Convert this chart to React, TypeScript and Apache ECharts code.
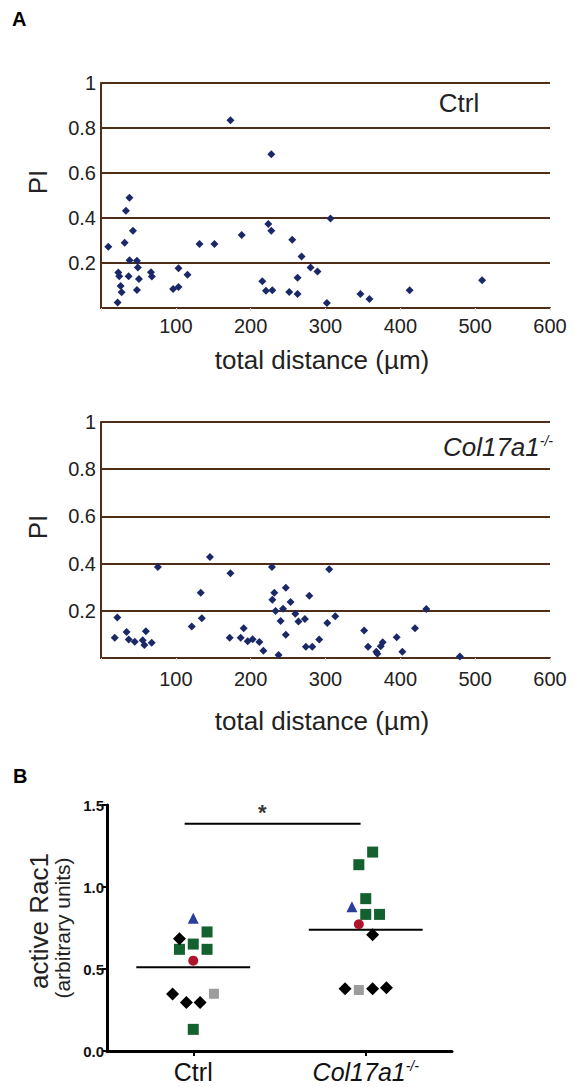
import React, { useEffect, useRef } from 'react';
import * as echarts from 'echarts';

// ---------- Panel A data (total distance in µm, PI) ----------
const distTicks = [0, 100, 200, 300, 400, 500, 600];
const piTicks = [0, 0.2, 0.4, 0.6, 0.8, 1];

const ctrlDistance = [
  9.8, 38, 33.3, 42.7, 31.6, 131.6, 151.6, 188, 38.2, 48, 49.3, 23.1, 24.4, 36.9, 50.7,
  66.7, 68, 26.2, 27.6, 48, 22.2, 103.6, 115.6, 96.4, 103.6, 173, 227.6, 306.7, 223.6,
  227.6, 255.6, 268, 280, 289.3, 215.6, 262.7, 220.4, 228.9, 251.6, 262.7, 301.8, 346.7,
  358.7, 412.4, 509.3,
];
const ctrlPI = [
  0.272, 0.49, 0.432, 0.343, 0.29, 0.284, 0.284, 0.324, 0.212, 0.21, 0.18, 0.158, 0.141,
  0.141, 0.129, 0.159, 0.14, 0.098, 0.07, 0.08, 0.024, 0.177, 0.148, 0.085, 0.093, 0.834,
  0.683, 0.398, 0.373, 0.343, 0.303, 0.229, 0.18, 0.162, 0.119, 0.134, 0.077, 0.079, 0.071,
  0.062, 0.022, 0.062, 0.04, 0.079, 0.123,
];

const koDistance = [
  145.6, 76, 173, 133.3, 21.8, 134.7, 121.3, 34.2, 60, 18.4, 37.1, 45.1, 55.7, 58, 67.7,
  172, 186.7, 190.7, 228.4, 304.9, 247, 231.6, 229, 253.3, 278.4, 233.3, 243.3, 259.7,
  263.8, 272.4, 240, 313, 302.4, 247, 196, 202.7, 211.6, 217, 237.3, 273.8, 282.3, 291.6,
  351.6, 356.9, 376.4, 373.8, 367.9, 369.3, 395.1, 402.7, 419.6, 434.7, 479.6,
];
const koPI = [
  0.428, 0.386, 0.359, 0.277, 0.172, 0.168, 0.134, 0.11, 0.113, 0.086, 0.078, 0.069, 0.075,
  0.055, 0.065, 0.086, 0.086, 0.126, 0.386, 0.376, 0.298, 0.277, 0.247, 0.237, 0.264, 0.199,
  0.209, 0.188, 0.155, 0.165, 0.157, 0.177, 0.148, 0.099, 0.071, 0.079, 0.068, 0.031, 0.013,
  0.048, 0.048, 0.078, 0.117, 0.048, 0.067, 0.05, 0.027, 0.018, 0.088, 0.027, 0.126, 0.208,
  0.006,
];

// ---------- Panel B data (active Rac1, arbitrary units) ----------
const groups = ['Ctrl', 'Col17a1'];
const racTicks = [0, 0.5, 1.0, 1.5];
const groupMeans = [0.51, 0.74];
const sigBar = [0.45, 1.47, 1.385]; // from, to (category units), height

// values and horizontal jitter offsets (category units) per marker kind
const ctrlGreen = [0.726, 0.652, 0.62, 0.62, 0.132];
const ctrlGreenOff = [0.08, 0, -0.08, 0.08, 0];
const ctrlBlack = [0.685, 0.348, 0.295, 0.295];
const ctrlBlackOff = [-0.08, -0.12, -0.04, 0.04];
const ctrlBlue = [0.809];
const ctrlBlueOff = [0];
const ctrlRed = [0.551];
const ctrlRedOff = [0];
const ctrlGray = [0.349];
const ctrlGrayOff = [0.12];

const koGreen = [1.213, 1.136, 0.929, 0.833, 0.833];
const koGreenOff = [0.04, -0.04, 0, 0, 0.08];
const koBlack = [0.709, 0.38, 0.38, 0.386];
const koBlackOff = [0.04, -0.12, 0.04, 0.12];
const koBlue = [0.88];
const koBlueOff = [-0.08];
const koRed = [0.773];
const koRedOff = [-0.04];
const koGray = [0.372];
const koGrayOff = [-0.04];

const FONT = '"Liberation Sans", Arial, Helvetica, sans-serif';
const BROWN = '#4e2d19';
const NAVY = '#1a2868';
const GREEN = '#13612f';
const BLUE = '#2a3d9a';
const RED = '#b0142a';
const GRAY = '#9c9c9c';

const zip = (xs: number[], ys: number[]) => xs.map((x, i) => [x, ys[i]]);
const jit = (center: number, vals: number[], offs: number[]) =>
  vals.map((v, i) => [center + offs[i], v]);

function panelAAxes(gridIndex: number, labelMargin: number) {
  const x = {
    type: 'value',
    gridIndex,
    min: distTicks[0],
    max: distTicks[distTicks.length - 1],
    interval: 100,
    axisLine: { show: true, lineStyle: { color: BROWN, width: 2 } },
    axisTick: { show: true, length: 3, lineStyle: { color: '#d8d8d8' } },
    splitLine: { show: false },
    axisLabel: {
      margin: labelMargin,
      fontFamily: FONT,
      fontSize: 20,
      color: '#222',
      formatter: (v: number) => (v === 0 ? '' : String(v)),
    },
  };
  const y = {
    type: 'value',
    gridIndex,
    min: piTicks[0],
    max: piTicks[piTicks.length - 1],
    interval: 0.2,
    axisLine: { show: true, lineStyle: { color: BROWN, width: 2 } },
    axisTick: { show: false },
    splitLine: { show: true, lineStyle: { color: BROWN, width: 2 } },
    axisLabel: {
      margin: 5,
      fontFamily: FONT,
      fontSize: 20,
      color: '#222',
      formatter: (v: number) => (v === 0 ? '' : v === 1 ? '1' : v.toFixed(1)),
    },
  };
  return { x, y };
}

export default function App() {
  const ref = useRef<HTMLDivElement>(null);

  useEffect(() => {
    if (!ref.current) return;
    const chart = echarts.init(ref.current, null, { renderer: 'svg' });

    const a1 = panelAAxes(0, 8);
    const a2 = panelAAxes(1, 11);

    const marker = (
      name: string,
      data: number[][],
      symbol: string,
      size: number,
      color: string
    ) => ({
      name,
      type: 'scatter',
      xAxisIndex: 3,
      yAxisIndex: 2,
      symbol,
      symbolSize: size,
      itemStyle: { color, opacity: 1 },
      data,
      z: 5,
    });

    const option: any = {
      animation: false,
      backgroundColor: '#fff',
      textStyle: { fontFamily: FONT },
      grid: [
        { left: 101, top: 83, width: 449, height: 225 },
        { left: 101, top: 422, width: 449, height: 236 },
        { left: 107, top: 805, width: 345, height: 246 },
      ],
      xAxis: [
        a1.x,
        a2.x,
        {
          type: 'category',
          gridIndex: 2,
          data: groups,
          boundaryGap: true,
          axisLine: { show: true, lineStyle: { color: '#000', width: 3 } },
          axisTick: { show: true, alignWithLabel: true, length: 5, lineStyle: { color: '#000', width: 2 } },
          axisLabel: {
            margin: 8,
            color: '#000',
            formatter: (v: string) => (v === 'Ctrl' ? '{n|Ctrl}' : '{i|Col17a1}{s|-/-}'),
            rich: {
              n: { fontFamily: FONT, fontSize: 25, color: '#111' },
              i: { fontFamily: FONT, fontSize: 25, fontStyle: 'italic', color: '#111' },
              s: { fontFamily: FONT, fontSize: 14, fontStyle: 'italic', color: '#111', verticalAlign: 'top' },
            },
          },
        },
        { type: 'value', gridIndex: 2, min: 0, max: 2, show: false },
      ],
      yAxis: [
        a1.y,
        a2.y,
        {
          type: 'value',
          gridIndex: 2,
          min: racTicks[0],
          max: racTicks[racTicks.length - 1],
          interval: 0.5,
          axisLine: { show: true, lineStyle: { color: '#000', width: 3 } },
          axisTick: { show: true, length: 5, lineStyle: { color: '#000', width: 2 } },
          splitLine: { show: false },
          axisLabel: {
            margin: 3,
            fontFamily: FONT,
            fontSize: 15,
            fontWeight: 'bold',
            color: '#111',
            formatter: (v: number) => v.toFixed(1),
          },
        },
      ],
      series: [
        {
          name: 'Ctrl',
          type: 'scatter',
          xAxisIndex: 0,
          yAxisIndex: 0,
          symbol: 'diamond',
          symbolSize: 8,
          itemStyle: { color: NAVY, opacity: 1 },
          data: zip(ctrlDistance, ctrlPI),
        },
        {
          name: 'Col17a1-/-',
          type: 'scatter',
          xAxisIndex: 1,
          yAxisIndex: 1,
          symbol: 'diamond',
          symbolSize: 8,
          itemStyle: { color: NAVY, opacity: 1 },
          data: zip(koDistance, koPI),
        },
        ...groupMeans.map((m, i) => ({
          name: 'mean ' + groups[i],
          type: 'line',
          xAxisIndex: 3,
          yAxisIndex: 2,
          symbol: 'none',
          lineStyle: { color: '#000', width: 2 },
          data: [
            [i + 0.5 - 0.33, m],
            [i + 0.5 + 0.33, m],
          ],
          z: 2,
        })),
        {
          name: 'significance',
          type: 'line',
          xAxisIndex: 3,
          yAxisIndex: 2,
          symbol: 'none',
          lineStyle: { color: '#000', width: 2 },
          data: [
            [sigBar[0], sigBar[2]],
            [sigBar[1], sigBar[2]],
          ],
        },
        {
          name: 'star',
          type: 'scatter',
          xAxisIndex: 3,
          yAxisIndex: 2,
          symbolSize: 1,
          itemStyle: { color: 'rgba(0,0,0,0)' },
          label: {
            show: true,
            position: 'inside',
            formatter: '*',
            fontFamily: FONT,
            fontSize: 22,
            fontWeight: 'bold',
            color: '#000',
          },
          data: [[(sigBar[0] + sigBar[1]) / 2 - 0.06, sigBar[2] + 0.07]],
        },
        marker('ctrl green', jit(0.5, ctrlGreen, ctrlGreenOff), 'rect', 11, GREEN),
        marker('ctrl black', jit(0.5, ctrlBlack, ctrlBlackOff), 'diamond', 13, '#000'),
        marker('ctrl blue', jit(0.5, ctrlBlue, ctrlBlueOff), 'triangle', 11, BLUE),
        marker('ctrl red', jit(0.5, ctrlRed, ctrlRedOff), 'circle', 10, RED),
        marker('ctrl gray', jit(0.5, ctrlGray, ctrlGrayOff), 'rect', 10, GRAY),
        marker('ko green', jit(1.5, koGreen, koGreenOff), 'rect', 11, GREEN),
        marker('ko black', jit(1.5, koBlack, koBlackOff), 'diamond', 13, '#000'),
        marker('ko blue', jit(1.5, koBlue, koBlueOff), 'triangle', 11, BLUE),
        marker('ko red', jit(1.5, koRed, koRedOff), 'circle', 10, RED),
        marker('ko gray', jit(1.5, koGray, koGrayOff), 'rect', 10, GRAY),
      ],
      graphic: [
        { type: 'text', left: 12, top: 9, style: { text: 'A', font: `bold 20px ${FONT}`, fill: '#000' } },
        { type: 'text', left: 13, top: 766, style: { text: 'B', font: `bold 20px ${FONT}`, fill: '#000' } },
        {
          type: 'text', x: 38, y: 182, rotation: Math.PI / 2,
          style: { text: 'PI', font: `26px ${FONT}`, fill: '#222', align: 'center', verticalAlign: 'middle' },
        },
        {
          type: 'text', x: 38, y: 527, rotation: Math.PI / 2,
          style: { text: 'PI', font: `26px ${FONT}`, fill: '#222', align: 'center', verticalAlign: 'middle' },
        },
        {
          type: 'text', x: 322, y: 360,
          style: { text: 'total distance (µm)', font: `26px ${FONT}`, fill: '#222', align: 'center', verticalAlign: 'middle' },
        },
        {
          type: 'text', x: 322, y: 721,
          style: { text: 'total distance (µm)', font: `26px ${FONT}`, fill: '#222', align: 'center', verticalAlign: 'middle' },
        },
        {
          type: 'text', x: 459, y: 103,
          style: { text: 'Ctrl', font: `26px ${FONT}`, fill: '#222', align: 'center', verticalAlign: 'middle' },
        },
        {
          type: 'text', x: 553, y: 447,
          style: {
            text: '{i|Col17a1}{s|-/-}',
            align: 'right',
            verticalAlign: 'middle',
            rich: {
              i: { font: `italic 26px ${FONT}`, fill: '#222' },
              s: { font: `italic 14px ${FONT}`, fill: '#222', verticalAlign: 'top' },
            },
          },
        },
        {
          type: 'text', x: 39, y: 921, rotation: Math.PI / 2,
          style: { text: 'active Rac1', font: `26px ${FONT}`, fill: '#222', align: 'center', verticalAlign: 'middle' },
        },
        {
          type: 'text', x: 62, y: 928, rotation: Math.PI / 2,
          style: { text: '(arbitrary units)', font: `21px ${FONT}`, fill: '#222', align: 'center', verticalAlign: 'middle' },
        },
      ],
    };

    chart.setOption(option);
    return () => chart.dispose();
  }, []);

  return (
    <div
      ref={ref}
      style={{ position: 'absolute', left: 0, top: 0, width: 574, height: 1087, background: '#fff' }}
    />
  );
}
